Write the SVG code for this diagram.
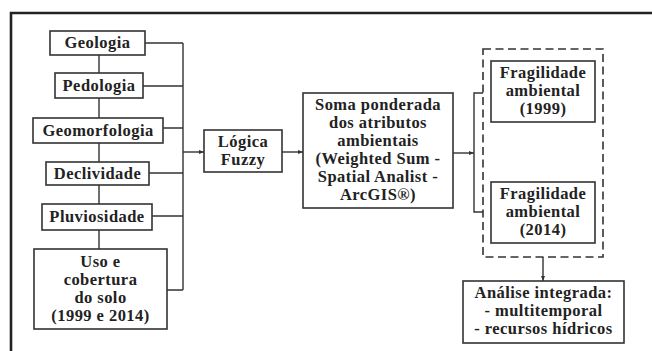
<svg xmlns="http://www.w3.org/2000/svg" width="652" height="351" viewBox="0 0 652 351">
<style>
.box{fill:#fff;stroke:#333;stroke-width:1.6}
.ln{fill:none;stroke:#333;stroke-width:1.4}
.dash{fill:none;stroke:#333;stroke-width:1.6;stroke-dasharray:8,4.5}
.t{font-family:'Liberation Serif','DejaVu Serif',serif;font-weight:bold;font-size:16.5px;letter-spacing:0.45px;fill:#222;text-anchor:middle}
</style>
<defs>
<marker id="ah" viewBox="0 0 10 10" refX="10" refY="5" markerWidth="5" markerHeight="5" orient="auto" markerUnits="userSpaceOnUse">
<path d="M0,1 L10,5 L0,9 z" fill="#333"/>
</marker>
</defs>
<rect width="652" height="351" fill="#fff"/>
<path d="M11,351 V13 H652" fill="none" stroke="#222" stroke-width="2.6"/>
<g id="connectors">
<path class="ln" d="M99,55 V73 M99,98 V118 M99,143 V162 M99,185 V204 M99,230 V249"/>
<path class="ln" d="M145,43 H183 M143,86 H183 M163,128 H183 M149,173 H183 M152,216 H183 M167,290 H183 M183,43 V290"/>
<path class="ln" d="M183,152 H204" marker-end="url(#ah)"/>
<path class="ln" d="M282,152 H303" marker-end="url(#ah)"/>
<path class="ln" d="M453,153 H474" marker-end="url(#ah)"/>
<path class="ln" d="M483,93 H474 V212 H483"/>
<path class="ln" d="M543,257 V281" marker-end="url(#ah)"/>
</g>
<g id="geologia"><rect class="box" x="50" y="31" width="95" height="24"/><text class="t" x="97.5" y="48">Geologia</text></g>
<g id="pedologia"><rect class="box" x="55" y="73" width="88" height="25"/><text class="t" x="99" y="91">Pedologia</text></g>
<g id="geomorfologia"><rect class="box" x="33" y="118" width="130" height="25"/><text class="t" x="98" y="136">Geomorfologia</text></g>
<g id="declividade"><rect class="box" x="46" y="162" width="103" height="23"/><text class="t" x="97.5" y="179">Declividade</text></g>
<g id="pluviosidade"><rect class="box" x="42" y="204" width="110" height="26"/><text class="t" x="97" y="222">Pluviosidade</text></g>
<g id="uso"><rect class="box" x="34" y="249" width="133" height="80"/><text class="t" x="100.5" y="267">Uso e</text><text class="t" x="100.5" y="285">cobertura</text><text class="t" x="100.5" y="303">do solo</text><text class="t" x="100.5" y="321">(1999 e 2014)</text></g>
<g id="logica"><rect class="box" x="204" y="130" width="78" height="42"/><text class="t" x="243" y="147">Lógica</text><text class="t" x="243" y="165">Fuzzy</text></g>
<g id="soma"><rect class="box" x="303" y="93" width="150" height="115"/><text class="t" x="378" y="110">Soma ponderada</text><text class="t" x="378" y="128">dos atributos</text><text class="t" x="378" y="146">ambientais</text><text class="t" x="378" y="164">(Weighted Sum -</text><text class="t" x="378" y="182">Spatial Analist -</text><text class="t" x="378" y="200">ArcGIS®)</text></g>
<g id="grupo"><rect class="dash" x="483" y="49" width="120" height="208"/></g>
<g id="frag1999"><rect class="box" x="491" y="61" width="104" height="61"/><text class="t" x="543" y="78">Fragilidade</text><text class="t" x="543" y="96">ambiental</text><text class="t" x="543" y="114">(1999)</text></g>
<g id="frag2014"><rect class="box" x="491" y="182" width="104" height="61"/><text class="t" x="543" y="199">Fragilidade</text><text class="t" x="543" y="217">ambiental</text><text class="t" x="543" y="235">(2014)</text></g>
<g id="analise"><rect class="box" x="463" y="281" width="161" height="62"/><text class="t" x="543.5" y="298">Análise integrada:</text><text class="t" x="543.5" y="316">- multitemporal</text><text class="t" x="543.5" y="334">- recursos hídricos</text></g>
</svg>
